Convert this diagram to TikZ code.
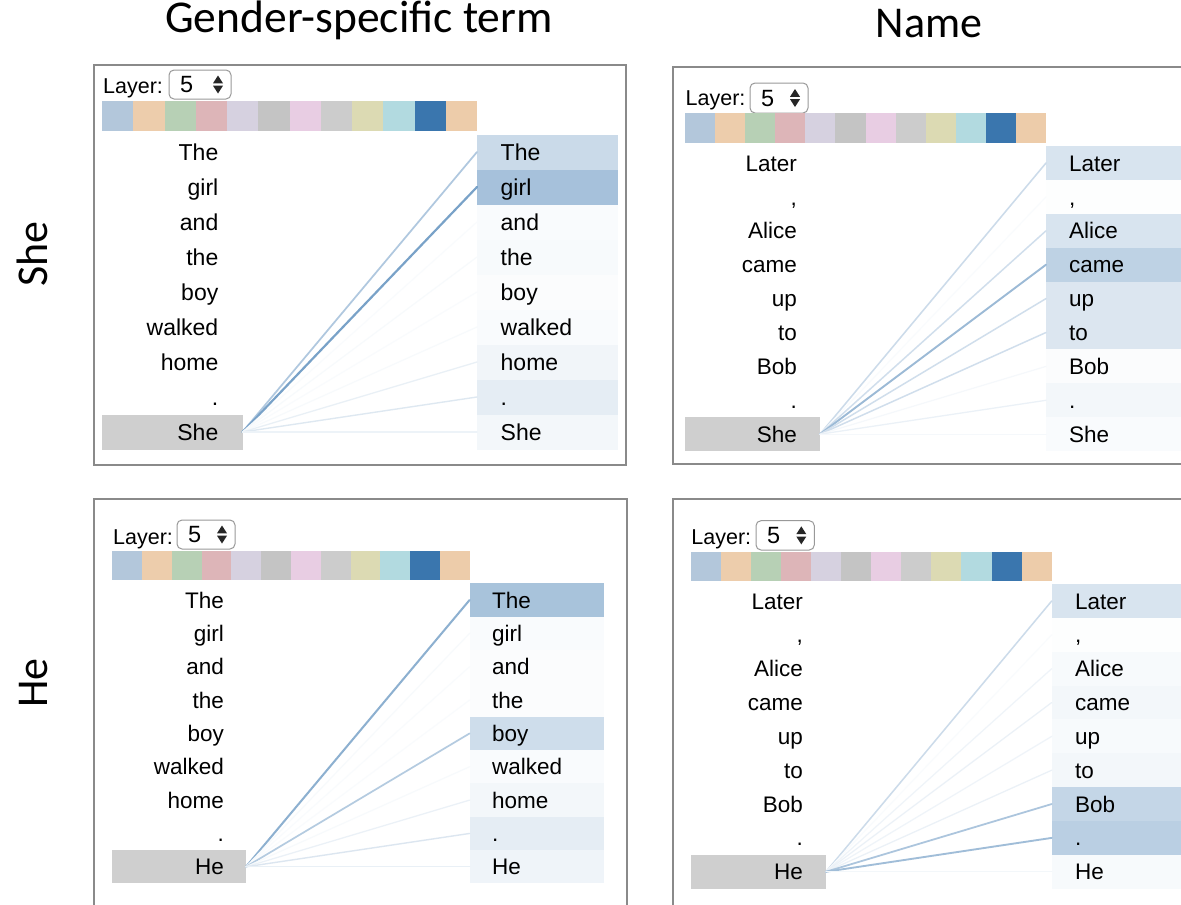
\documentclass[tikz,border=0pt]{standalone}
\usepackage{fontspec}
\newfontfamily\wf{Liberation Sans}
\newfontfamily\tf{Carlito}
\definecolor{barblue}{HTML}{3A76AE}
\definecolor{framegray}{HTML}{8A8A8A}
\definecolor{qgray}{HTML}{CFCFCF}
\definecolor{cbA}{HTML}{B3C7DB}
\definecolor{cbB}{HTML}{EDCDAC}
\definecolor{cbC}{HTML}{B7D0B5}
\definecolor{cbD}{HTML}{DDB5B8}
\definecolor{cbE}{HTML}{D6D1E0}
\definecolor{cbF}{HTML}{C4C4C4}
\definecolor{cbG}{HTML}{E8CDE3}
\definecolor{cbH}{HTML}{CCCCCC}
\definecolor{cbI}{HTML}{DCDAB3}
\definecolor{cbJ}{HTML}{B2DAE0}
\definecolor{cbK}{HTML}{3A76AE}
\definecolor{cbL}{HTML}{EDCCAA}
\tikzset{
  frame/.style={draw=framegray, line width=2pt},
  word/.style={font=\wf\fontsize{\fs}{\fs}\selectfont, inner sep=0pt, text height={0.72*\fs}, text depth=0pt},
  layerword/.style={font=\wf\fontsize{21.5}{21.5}\selectfont, inner sep=0pt, text height={0.72*21.5}, text depth=0pt},
  selword/.style={font=\wf\fontsize{23.5}{23.5}\selectfont, inner sep=0pt, text height={0.72*23.5}, text depth=0pt},
  titletext/.style={font=\tf\fontsize{44}{44}\selectfont, inner sep=0pt},
  dropbox/.style={draw=black!40, fill=white, line width=1pt, rounded corners=5pt},
  rbox/.style={draw=none, inner sep=0pt, outer sep=0pt},
  qbox/.style={draw=none, fill=qgray, inner sep=0pt, outer sep=0pt},
  attn/.style={line cap=round},
}
\newcommand\drawpanel{%
  \draw[frame] (\fl,\ft) rectangle (\fr,\fb);
  \node[layerword, anchor=west] (\pfx layer) at (\lx,\ly) {Layer:};
  \draw[dropbox] (\dl,\dt) rectangle (\dr,\db);
  \pgfmathsetmacro\dm{(\dt+\db)/2}
  \node[selword, anchor=west] (\pfx sel) at ({\dl+11},\dm) {5};
  \fill[black!85] ({\dr-18},{\dm-1.2}) -- ({\dr-8},{\dm-1.2}) -- ({\dr-13},{\dm-9}) -- cycle;
  \fill[black!85] ({\dr-18},{\dm+1.2}) -- ({\dr-8},{\dm+1.2}) -- ({\dr-13},{\dm+9}) -- cycle;
  \foreach \c [count=\k] in {cbA,cbB,cbC,cbD,cbE,cbF,cbG,cbH,cbI,cbJ,cbK,cbL}
    \fill[\c] ({\cl+(\k-1)*(\cr-\cl)/12},\ct) rectangle ({\cl+\k*(\cr-\cl)/12},\cb);
  \pgfmathsetmacro\qy{\ry+8*\rs}
  \node[qbox, minimum width={\gr-\gl}, minimum height=\rs, anchor=west] (\pfx q) at (\gl,\qy) {};
  \foreach \w/\a/\l [count=\i] in \words {
    \pgfmathsetmacro\yy{\ry+(\i-1)*\rs}
    \node[rbox, fill=barblue!\a!white, minimum width={\rr-\rl}, minimum height=\rs, anchor=west] (\pfx r\i) at (\rl,\yy) {};
  }
  \foreach \w/\a/\l [count=\i] in \words {
    \pgfmathsetmacro\lw{1.1+0.016*\l}
    \draw[attn, draw=barblue!\l!white, line width=\lw pt] (\pfx q.east) -- (\pfx r\i.west);
  }
  \foreach \w/\a/\l [count=\i] in \words {
    \pgfmathsetmacro\yy{\ry+(\i-1)*\rs}
    \node[word, anchor=east] (\pfx lw\i) at (\wx,\yy) {\w};
    \node[word, anchor=west] (\pfx rw\i) at (\rwx,\yy) {\w};
  }
}
\begin{document}
\begin{tikzpicture}[x=1pt, y=-1pt]
\useasboundingbox (0,0) rectangle (1181,905);
\clip (0,0) rectangle (1181,905);
\fill[white] (0,0) rectangle (1181,905);
% titles
\node[titletext, font=\tf\fontsize{45.5}{45.5}\selectfont, anchor=base] (t1) at (359,32) {Gender-specific term};
\node[titletext, anchor=base] (t2) at (929,37) {Name};
\node[titletext, rotate=90, anchor=base] (s1) at (47,254) {She};
\node[titletext, rotate=90, anchor=base] (s2) at (47,683) {He};
% panel 1
\def\pfx{pa}\def\fs{23}
\def\fl{94}\def\ft{65}\def\fr{626}\def\fb{465}
\def\lx{103}\def\ly{86}
\def\dl{169}\def\dr{231}\def\dt{70}\def\db{99}
\def\cl{102}\def\cr{477}\def\ct{101}\def\cb{131}
\def\wx{218.5}\def\rl{477}\def\rr{618}\def\rwx{500.5}
\def\ry{152}\def\rs{35}\def\gl{102}\def\gr{242.5}
\def\words{The/27/40, girl/45/68, and/3/3, the/4/4, boy/2/3, walked/3/4, home/7/11, ./13/17, She/6/9}
\drawpanel
% panel 2
\def\pfx{pb}\def\fs{22.5}
\def\fl{673}\def\ft{67}\def\fr{1200}\def\fb{464}
\def\lx{685.5}\def\ly{98}
\def\dl{750}\def\dr{808}\def\dt{83}\def\db{113}
\def\cl{685}\def\cr{1046}\def\ct{113}\def\cb{143}
\def\wx{797}\def\rl{1046}\def\rr{1200}\def\rwx{1069}
\def\ry{163}\def\rs{33.9}\def\gl{685}\def\gr{820}
\def\words{Later/20/26, {,}/1/3, Alice/20/24, came/33/50, up/18/24, to/18/24, Bob/2/5, ./6/10, She/3/5}
\drawpanel
% panel 3
\def\pfx{pc}\def\fs{22.5}
\def\fl{93.5}\def\ft{499}\def\fr{626.5}\def\fb{920}
\def\lx{113}\def\ly{536.5}
\def\dl{177}\def\dr{235}\def\dt{520}\def\db{549}
\def\cl{112.4}\def\cr{469.6}\def\ct{551}\def\cb{580}
\def\wx{224}\def\rl{469.6}\def\rr{604}\def\rwx{492}
\def\ry{600}\def\rs{33.35}\def\gl{112.4}\def\gr{246}
\def\words{The/44/58, girl/3/4, and/2/3, the/2/3, boy/25/38, walked/3/4, home/6/10, ./13/18, He/8/11}
\drawpanel
% panel 4
\def\pfx{pd}\def\fs{22.5}
\def\fl{673}\def\ft{499}\def\fr{1200}\def\fb{920}
\def\lx{691.2}\def\ly{536.7}
\def\dl{756}\def\dr{814.3}\def\dt{520.7}\def\db{550}
\def\cl{690.7}\def\cr{1051.7}\def\ct{551.7}\def\cb{581}
\def\wx{803}\def\rl{1051.7}\def\rr{1200}\def\rwx{1075}
\def\ry{601}\def\rs{33.84}\def\gl{690.7}\def\gr{826}
\def\words{Later/20/26, {,}/1/3, Alice/4/8, came/6/10, up/4/8, to/6/10, Bob/30/42, ./35/48, He/4/6}
\drawpanel
\end{tikzpicture}
\end{document}
